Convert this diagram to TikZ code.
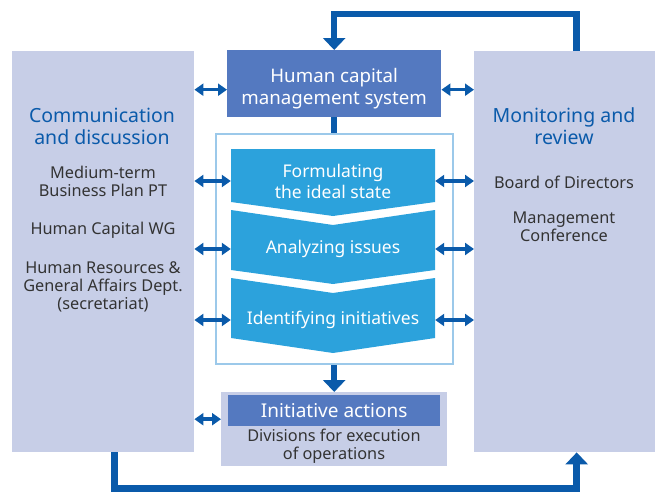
\documentclass[tikz,border=0pt]{standalone}
\usepackage{fontspec}
\setmainfont{Noto Sans}
\usetikzlibrary{arrows.meta,positioning,calc}
\definecolor{panelbg}{HTML}{C7CEE7}
\definecolor{sysblue}{HTML}{5479C0}
\definecolor{chevblue}{HTML}{2CA2DC}
\definecolor{flowblue}{HTML}{0A5AAA}
\definecolor{framecol}{HTML}{9CC9EA}
\definecolor{bodytext}{HTML}{333333}

\tikzset{
  panel/.style={fill=panelbg, anchor=north west, inner sep=0pt},
  heading/.style={text=flowblue, align=center, font=\fontsize{19.5}{22}\selectfont},
  bodytxt/.style={text=bodytext, align=center, font=\fontsize{16.3}{18}\selectfont},
  sysbox/.style={fill=sysblue, text=white, anchor=north west, align=center, inner sep=0pt},
  chevtxt/.style={text=white, align=center, minimum width=204pt, inner sep=0pt, font=\fontsize{17.5}{21}\selectfont},
  dblarrow/.style={line width=3.5pt, draw=flowblue, {Triangle[width=12pt,length=9pt]}-{Triangle[width=12pt,length=9pt]}},
  bigarrow/.style={line width=6.5pt, draw=flowblue, -{Triangle[width=22pt,length=12pt]}},
  bigline/.style={line width=6.5pt, draw=flowblue}
}

\begin{document}
\begin{tikzpicture}[x=1pt,y=-1pt]
    \useasboundingbox (0,0) rectangle (662,493);

    % Side panels
    \node[panel, minimum width=182pt, minimum height=401pt] (comm) at (12,51) {};
    \node[panel, minimum width=181pt, minimum height=401pt] (mon) at (474,51) {};

    \node[heading] (commhead) at (102,126) {Communication\\and discussion};
    \node[bodytxt] (mtp) at (103,181) {Medium-term\\Business Plan PT};
    \node[bodytxt] (hcwg) at (103,230) {Human Capital WG};
    \node[bodytxt] (hrga) at (103,287) {Human Resources \&\\General Affairs Dept.\\(secretariat)};

    \node[heading] (monhead) at (564,126) {Monitoring and\\review};
    \node[bodytxt] (board) at (564,182) {Board of Directors};
    \node[bodytxt] (mgmt) at (564,227) {Management\\Conference};

    % Human capital management system
    \node[sysbox, minimum width=214pt, minimum height=67pt, font=\fontsize{18.7}{22}\selectfont] (hcms) at (227,50) {\rule{0pt}{24pt}Human capital\\management system};

    % Process frame and chevrons
    \node[draw=framecol, line width=2pt, anchor=north west, minimum width=237pt, minimum height=230pt, inner sep=0pt] (frame) at (215,133) {};
    \fill[chevblue] (231,149) -- (435,149) -- (435,202) -- (333,216) -- (231,202) -- cycle;
    \fill[chevblue] (231,210) -- (333,225) -- (435,210) -- (435,270) -- (333,284) -- (231,270) -- cycle;
    \fill[chevblue] (231,278) -- (333,293) -- (435,278) -- (435,338) -- (333,353) -- (231,338) -- cycle;
    \node[chevtxt] (ideal) at (333,181) {Formulating\\the ideal state};
    \node[chevtxt] (issues) at (333,249) {Analyzing issues};
    \node[chevtxt] (initv) at (333,320) {Identifying initiatives};

    % Initiative actions
    \node[panel, minimum width=226pt, minimum height=74pt] (initbg) at (221,392) {};
    \node[sysbox, minimum width=212pt, minimum height=31pt, font=\fontsize{19}{22}\selectfont] (initbar) at (228,395) {Initiative actions};
    \node[bodytxt] (divs) at (334,446) {Divisions for execution\\of operations};

    % Two-way links
    \coordinate (hcmsL) at ($(hcms.west)+(0,6)$);
    \coordinate (hcmsR) at ($(hcms.east)+(0,6)$);
    \coordinate (initL) at ($(initbg.west)+(0,-10)$);
    \draw[dblarrow] (comm.east |- hcmsL) -- (hcmsL);
    \draw[dblarrow] (hcmsR) -- (mon.west |- hcmsR);
    \foreach \step in {ideal,issues,initv} {
        \draw[dblarrow] (comm.east |- \step.west) -- (\step.west);
        \draw[dblarrow] (\step.east) -- (mon.west |- \step.east);
    }
    \draw[dblarrow] (comm.east |- initL) -- (initL);

    % Flow
    \draw[bigline] (hcms.south) -- (hcms.south |- frame.north);
    \draw[bigarrow] (frame.south -| initbg.north) -- (initbg.north);

    % Feedback loops
    \draw[bigarrow] ([xshift=12pt]mon.north) -- ++(0,-37) -| (hcms.north);
    \draw[bigarrow] ([xshift=11.5pt]comm.south) -- ++(0,36) -| ([xshift=12pt]mon.south);
\end{tikzpicture}
\end{document}
